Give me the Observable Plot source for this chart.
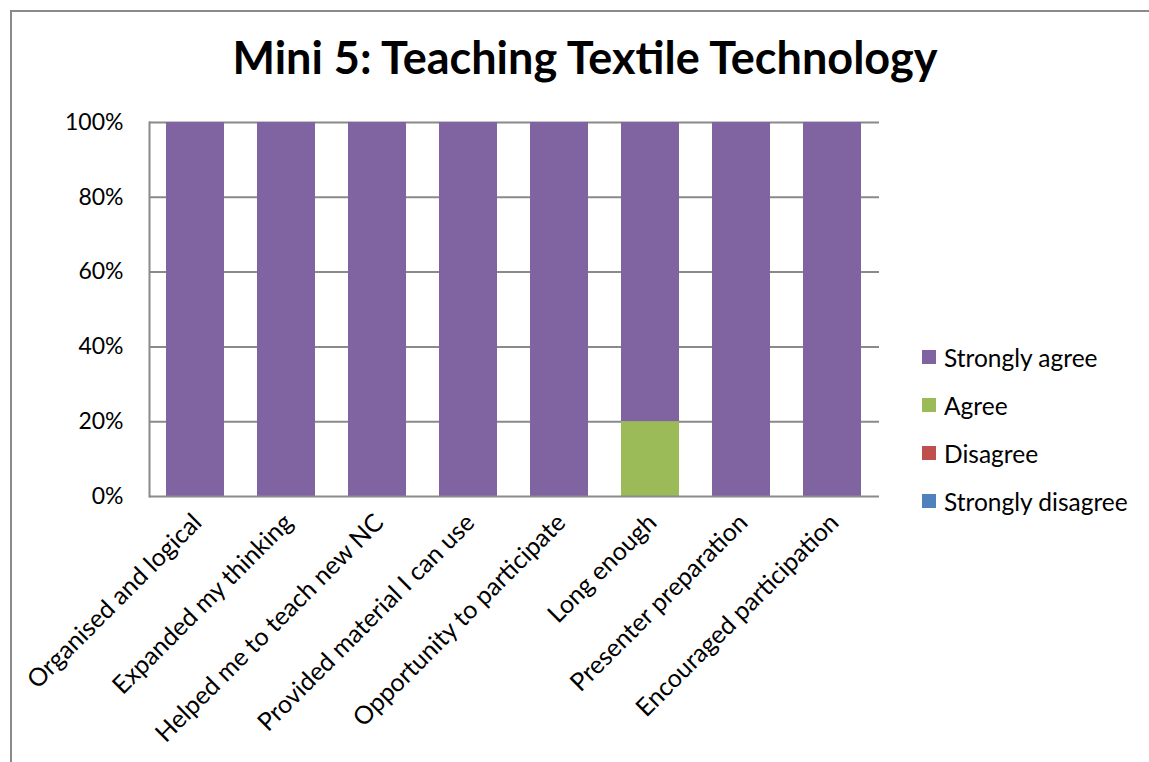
<!DOCTYPE html>
<html>
<head>
<meta charset="utf-8">
<script src="https://cdn.jsdelivr.net/npm/d3@7"></script>
<script src="https://cdn.jsdelivr.net/npm/@observablehq/plot@0.6"></script>
<style>
  html, body { margin: 0; padding: 0; background: #fff; width: 1149px; height: 762px; overflow: hidden; }
  #wrap { position: relative; width: 1149px; height: 762px; font-family: Lato, "Open Sans", sans-serif; }
  #frame { position: absolute; left: 10px; top: 10px; width: 1160px; height: 780px; border: 2px solid #8a8a8a; box-sizing: border-box; }
  #title { position: absolute; left: 0; width: 1170px; top: 35px; line-height: 1; text-align: center; font-size: 45px; font-weight: bold; color: #000; }
  #chart { position: absolute; left: 0; top: 0; }
  #legend { position: absolute; left: 922px; top: 333px; }
  .item { display: flex; align-items: center; height: 48px; font-size: 24.5px; color: #000; }
  .sw { width: 14px; height: 14px; margin-right: 8px; }
</style>
</head>
<body>
<div id="wrap">
  <div id="frame"></div>
  <div id="chart"></div>
  <div id="title"></div>
  <div id="legend"></div>
</div>
<script>
const titleText = "Mini 5: Teaching Textile Technology";
const categories = ["Organised and logical", "Expanded my thinking", "Helped me to teach new NC", "Provided material I can use", "Opportunity to participate", "Long enough", "Presenter preparation", "Encouraged participation"];
const seriesNames = ["Strongly agree", "Agree", "Disagree", "Strongly disagree"];
const seriesColors = ["#8064A2", "#9BBB59", "#C0504D", "#4F81BD"];
const stronglyAgree = [1, 1, 1, 1, 1, 0.8, 1, 1];
const agree = [0, 0, 0, 0, 0, 0.2, 0, 0];
const disagree = [0, 0, 0, 0, 0, 0, 0, 0];
const stronglyDisagree = [0, 0, 0, 0, 0, 0, 0, 0];
const yTicks = [0, 0.2, 0.4, 0.6, 0.8, 1];

const seriesValues = [stronglyAgree, agree, disagree, stronglyDisagree];
const data = [];
categories.forEach((c, i) => {
  seriesNames.forEach((s, j) => {
    data.push({category: c, series: s, value: seriesValues[j][i]});
  });
});
const stackOrder = ["Strongly disagree", "Disagree", "Agree", "Strongly agree"];

document.getElementById("title").textContent = titleText;

const chart = Plot.plot({
  width: 1149,
  height: 762,
  marginLeft: 149,
  marginRight: 270,
  marginTop: 122,
  marginBottom: 266,
  style: {fontFamily: "Lato, 'Open Sans', sans-serif", background: "transparent"},
  x: {domain: categories, paddingInner: 0.36, paddingOuter: 0.18, label: null},
  y: {domain: [0, 1], label: null},
  color: {domain: seriesNames, range: seriesColors},
  marks: [
    Plot.ruleY(yTicks.filter(d => d > 0), {stroke: "#8a8a8a", strokeWidth: 2}),
    Plot.barY(data, {x: "category", y: "value", fill: "series", order: stackOrder}),
    Plot.axisY({ticks: yTicks, tickFormat: d3.format(".0%"), tickSize: 0, tickPadding: 26, fontSize: 23, label: null, fill: "#000"}),
    Plot.axisX({tickRotate: -45, tickSize: 0, tickPadding: 22, fontSize: 25, label: null, fill: "#000", dx: 2}),
    Plot.ruleY([0], {stroke: "#8a8a8a", strokeWidth: 2}),
    Plot.frame({anchor: "left", stroke: "#8a8a8a", strokeWidth: 2})
  ]
});
document.getElementById("chart").appendChild(chart);

const legend = document.getElementById("legend");
seriesNames.forEach((s, j) => {
  const it = document.createElement("div");
  it.className = "item";
  const sw = document.createElement("div");
  sw.className = "sw";
  sw.style.background = seriesColors[j];
  const t = document.createElement("span");
  t.textContent = s;
  it.appendChild(sw);
  it.appendChild(t);
  legend.appendChild(it);
});
</script>
</body>
</html>
